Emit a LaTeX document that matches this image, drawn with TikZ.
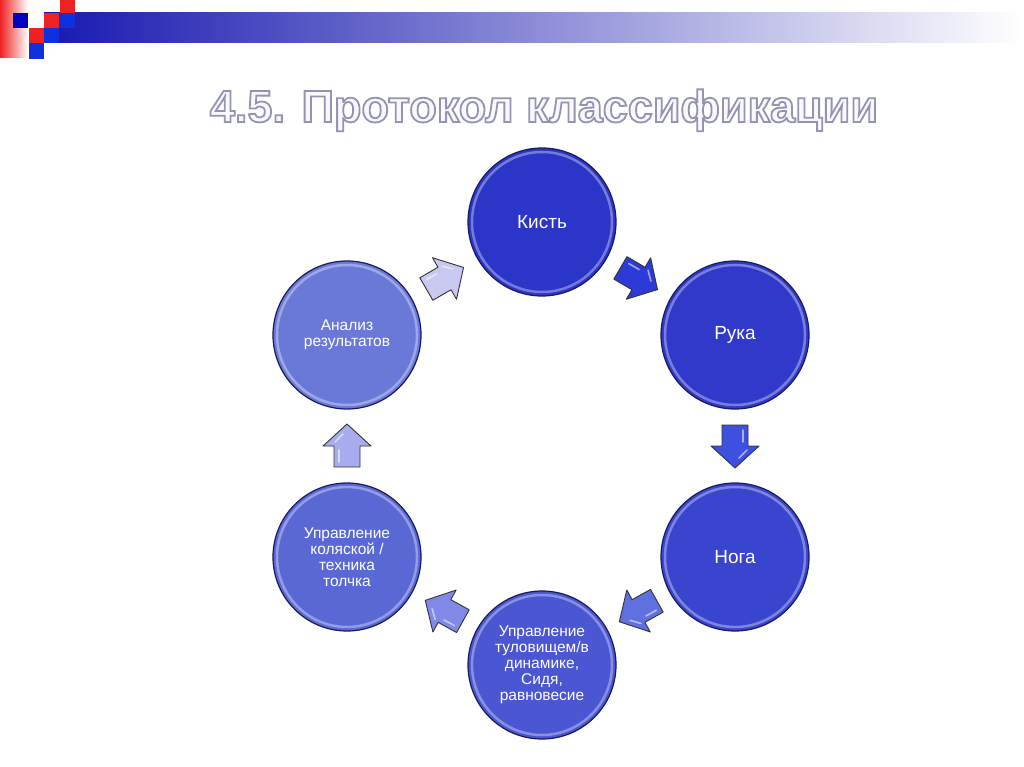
\documentclass[tikz,border=0pt]{standalone}
\usepackage{fontspec}
\setmainfont{Liberation Sans}
\newfontfamily\titlefont{Liberation Sans}[BoldFeatures={FakeBold=4}]
\usetikzlibrary{calc}
\definecolor{cA}{HTML}{2B35C8}
\definecolor{cB}{HTML}{3139CA}
\definecolor{cC}{HTML}{3A45CF}
\definecolor{cD}{HTML}{4A56D2}
\definecolor{cE}{HTML}{5A68D6}
\definecolor{cF}{HTML}{6A78D8}
\definecolor{aA}{HTML}{C8C8F0}
\definecolor{aB}{HTML}{2E3AD8}
\definecolor{aC}{HTML}{3E50E0}
\definecolor{aD}{HTML}{6070E0}
\definecolor{aE}{HTML}{8088E8}
\definecolor{aF}{HTML}{A8ACEE}
\definecolor{rim}{HTML}{1A1A5A}
\definecolor{barblue}{HTML}{1818B0}
\definecolor{sqred}{HTML}{EE2222}
\definecolor{sqblue}{HTML}{1030E0}
\definecolor{sqdark}{HTML}{0000C0}
\definecolor{titlefill}{HTML}{F8F8FF}
\newcommand\blockarrow[3]{%
  \path let \p1=($(#2)-(#1)$), \n1={atan2(\y1,\x1)} in
    pic[rotate=\n1] at ($(#1)!0.5!(#2)$) {barrow=#3};}
\tikzset{
  circ/.style={circle, minimum size=148pt, inner sep=0pt, draw=rim, line width=1.2pt,
    text=white, align=center, font=\fontsize{15.5}{16}\selectfont,
    path picture={\draw[white, opacity=0.35, line width=2.5pt]
      (path picture bounding box.center) circle (70pt);}},
  bigtxt/.style={font=\fontsize{19}{20}\selectfont},
  pics/barrow/.style={code={
    \draw[fill=#1, draw=black!80, line width=0.9pt, line join=round]
      (-21,-13) -- (0,-13) -- (0,-24) -- (22,0) -- (0,24) -- (0,13) -- (-21,13) -- cycle;
    \draw[white, opacity=0.55, line width=1.6pt, line cap=round]
      (-16,-8) -- (-4,-8) (4,-12) -- (12,-4);
  }},
  ttl/.style={font=\fontsize{45}{45}\selectfont\titlefont\bfseries, anchor=base, inner sep=0pt}
}
\begin{document}
\begin{tikzpicture}[x=1pt, y=-1pt]
\useasboundingbox (0,0) rectangle (1024,767);
\fill[white] (0,0) rectangle (1024,767);
% top-left decoration
\shade[left color=sqred, right color=white] (0,0) rectangle (28,58);
\shade[left color=barblue, right color=white] (44,13) rectangle (1024,43);
\fill[sqred] (60,0) rectangle (75,13);
\fill[sqdark] (13,13) rectangle (28,28);
\fill[sqred] (44,13) rectangle (59,28);
\fill[sqblue] (59,13) rectangle (75,28);
\fill[sqred] (29,28) rectangle (44,43);
\fill[sqblue] (44,28) rectangle (59,43);
\fill[sqblue] (29,43) rectangle (44,59);
% title: white letters with a grey outline (stroke colour set after the fill colour)
\node[ttl, text=titlefill] (title) at (544,122)
  {\special{pdf:literal direct 0.58 0.58 0.70 RG}4.5. Протокол классификации};
% circles
\node[circ, fill=cA, bigtxt] (kist) at (542,222) {Кисть};
\node[circ, fill=cB, bigtxt] (ruka) at (735,335) {Рука};
\node[circ, fill=cC, bigtxt] (noga) at (735,557) {Нога};
\node[circ, fill=cD] (tulov) at (542,665) {Управление\\туловищем/в\\динамике,\\Сидя,\\равновесие};
\node[circ, fill=cE] (kolyas) at (347,557) {Управление\\коляской /\\техника\\толчка};
\node[circ, fill=cF] (analiz) at (347,335) {Анализ\\результатов};
% block arrows
\blockarrow{analiz}{kist}{aA}
\blockarrow{kist}{ruka}{aB}
\blockarrow{ruka}{noga}{aC}
\blockarrow{noga}{tulov}{aD}
\blockarrow{tulov}{kolyas}{aE}
\blockarrow{kolyas}{analiz}{aF}
\end{tikzpicture}
\end{document}
